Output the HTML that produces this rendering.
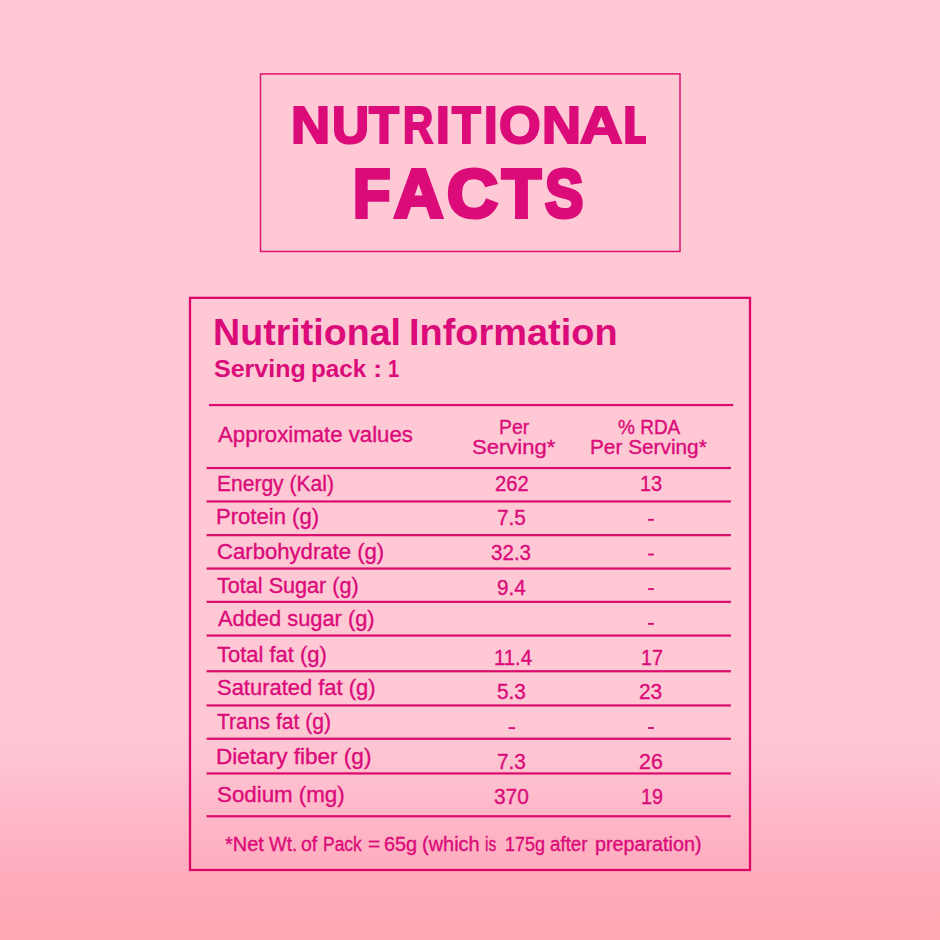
<!DOCTYPE html>
<html lang="en">
<head>
<meta charset="utf-8">
<title>Nutritional Facts</title>
<style>
html,body{margin:0;padding:0;}
body{width:940px;height:940px;overflow:hidden;position:relative;font-family:"Liberation Sans",sans-serif;color:#db0b79;
background:linear-gradient(to bottom,#fec8d5 0px,#fec8d5 726px,#fec4d1 760px,#febbcb 800px,#feb2c3 845px,#feabba 885px,#ffa7b4 940px);}
.t{position:absolute;white-space:nowrap;transform-origin:0 0;margin:0;font-weight:400;}
.b{font-weight:700;}
.ttl{position:absolute;left:0;top:0;margin:0;width:0;height:0;}
.ln{position:absolute;left:0;top:0;}

</style>
</head>
<body>
<svg class="ln" width="940" height="940" viewBox="0 0 940 940">
<rect x="260.5" y="73.9" width="419.5" height="177.55" fill="none" stroke="#e0146e" stroke-width="1.5"/>
<rect x="190" y="297.85" width="560" height="572.15" fill="none" stroke="#dd0767" stroke-width="2.3"/>
<g fill="#dc0a6c">
<rect x="209.0" y="403.95" width="524.2" height="2.2"/>
<rect x="206.6" y="466.95" width="524.3" height="2.2"/>
<rect x="206.6" y="500.35" width="524.3" height="2.2"/>
<rect x="206.6" y="534.05" width="524.3" height="2.2"/>
<rect x="206.6" y="567.45" width="524.3" height="2.2"/>
<rect x="206.6" y="600.75" width="524.3" height="2.2"/>
<rect x="206.6" y="634.45" width="524.3" height="2.2"/>
<rect x="206.6" y="670.15" width="524.3" height="2.2"/>
<rect x="206.6" y="704.35" width="524.3" height="2.2"/>
<rect x="206.6" y="737.65" width="524.3" height="2.2"/>
<rect x="206.6" y="772.35" width="524.3" height="2.2"/>
<rect x="206.6" y="815.15" width="524.3" height="2.2"/>
</g>
<g fill="#db0b79">
<rect x="648.1" y="518.90" width="5.8" height="1.9"/>
<rect x="648.1" y="553.55" width="5.8" height="1.9"/>
<rect x="648.1" y="588.15" width="5.8" height="1.9"/>
<rect x="648.1" y="622.95" width="5.8" height="1.9"/>
<rect x="508.6" y="727.15" width="6.5" height="1.9"/>
<rect x="648.1" y="727.05" width="5.8" height="1.9"/>
</g>
</svg>
<h1 class="ttl">
<span class="t b" style="left:291.01px;top:99px;font-size:52.2px;line-height:52.2px;-webkit-text-stroke:2.2px #db0b79;transform:scaleX(1.0374);">N</span>
<span class="t b" style="left:331.88px;top:99px;font-size:52.2px;line-height:52.2px;-webkit-text-stroke:2.2px #db0b79;transform:scaleX(0.9841);">U</span>
<span class="t b" style="left:369.47px;top:99px;font-size:52.2px;line-height:52.2px;-webkit-text-stroke:2.2px #db0b79;transform:scaleX(0.9392);">T</span>
<span class="t b" style="left:403.28px;top:99px;font-size:52.2px;line-height:52.2px;-webkit-text-stroke:2.2px #db0b79;transform:scaleX(0.7998);">R</span>
<span class="t b" style="left:436.33px;top:99px;font-size:52.2px;line-height:52.2px;-webkit-text-stroke:2.2px #db0b79;transform:scaleX(0.9467);">I</span>
<span class="t b" style="left:452.45px;top:99px;font-size:52.2px;line-height:52.2px;-webkit-text-stroke:2.2px #db0b79;transform:scaleX(0.9027);">T</span>
<span class="t b" style="left:484.06px;top:99px;font-size:52.2px;line-height:52.2px;-webkit-text-stroke:2.2px #db0b79;transform:scaleX(0.9364);">I</span>
<span class="t b" style="left:498.99px;top:99px;font-size:52.2px;line-height:52.2px;-webkit-text-stroke:2.2px #db0b79;transform:scaleX(1.0265);">O</span>
<span class="t b" style="left:542.32px;top:99px;font-size:52.2px;line-height:52.2px;-webkit-text-stroke:2.2px #db0b79;transform:scaleX(1.0344);">N</span>
<span class="t b" style="left:580.02px;top:99px;font-size:52.2px;line-height:52.2px;-webkit-text-stroke:2.2px #db0b79;transform:scaleX(1.1249);">A</span>
<span class="t b" style="left:623.32px;top:99px;font-size:52.2px;line-height:52.2px;-webkit-text-stroke:2.2px #db0b79;clip-path:polygon(-20px -20px,24.19px -20px,24.19px 120px,-20px 120px);transform:scaleX(0.9500);">L</span>
</h1>
<h1 class="ttl">
<span class="t b" style="left:353.28px;top:159px;font-size:69px;line-height:69px;-webkit-text-stroke:4px #db0b79;transform:scaleX(0.8873);">F</span>
<span class="t b" style="left:393.86px;top:159px;font-size:69px;line-height:69px;-webkit-text-stroke:4px #db0b79;transform:scaleX(0.9875);">A</span>
<span class="t b" style="left:446.53px;top:159px;font-size:69px;line-height:69px;-webkit-text-stroke:4px #db0b79;transform:scaleX(1.0203);">C</span>
<span class="t b" style="left:501.73px;top:159px;font-size:69px;line-height:69px;-webkit-text-stroke:4px #db0b79;transform:scaleX(0.9234);">T</span>
<span class="t b" style="left:545.27px;top:159px;font-size:69px;line-height:69px;-webkit-text-stroke:4px #db0b79;transform:scaleX(0.8330);">S</span>
</h1>
<h2 class="ttl">
<span class="t b" style="left:213.17px;top:314px;font-size:37px;line-height:37px;transform:scaleX(1.0167);">Nutritional</span>
<span class="t b" style="left:408.85px;top:314px;font-size:37px;line-height:37px;transform:scaleX(1.0251);">Information</span>
</h2>
<h2 class="ttl">
<span class="t b" style="left:214.30px;top:357px;font-size:24.2px;line-height:24.2px;transform:scaleX(1.0341);">Serving</span>
<span class="t b" style="left:311.43px;top:357px;font-size:24.2px;line-height:24.2px;transform:scaleX(1.0012);">pack</span>
<span class="t b" style="left:372.68px;top:357px;font-size:24.2px;line-height:24.2px;transform:scaleX(1.1499);">:</span>
<span class="t b" style="left:387.69px;top:357px;font-size:24.2px;line-height:24.2px;transform:scaleX(0.8308);">1</span>
</h2>
<div class="t" style="left:217.61px;top:425px;font-size:21.5px;line-height:21.5px;-webkit-text-stroke:0.35px #db0b79;transform:scaleX(1.0318);">Approximate values</div>
<div class="t" style="left:498.68px;top:417px;font-size:20.5px;line-height:20.5px;-webkit-text-stroke:0.35px #db0b79;transform:scaleX(0.9477);">Per</div>
<div class="t" style="left:472.03px;top:437px;font-size:20.5px;line-height:20.5px;-webkit-text-stroke:0.35px #db0b79;transform:scaleX(1.0763);">Serving*</div>
<div class="t" style="left:617.60px;top:417px;font-size:20.5px;line-height:20.5px;-webkit-text-stroke:0.35px #db0b79;transform:scaleX(0.9266);">% RDA</div>
<div class="t" style="left:589.88px;top:437px;font-size:20.5px;line-height:20.5px;-webkit-text-stroke:0.35px #db0b79;transform:scaleX(1.0144);">Per Serving*</div>
<div class="t" style="left:216.64px;top:474px;font-size:21.5px;line-height:21.5px;-webkit-text-stroke:0.35px #db0b79;transform:scaleX(0.9782);">Energy (Kal)</div>
<div class="t" style="left:216.36px;top:507px;font-size:21.5px;line-height:21.5px;-webkit-text-stroke:0.35px #db0b79;transform:scaleX(1.0271);">Protein (g)</div>
<div class="t" style="left:216.68px;top:542px;font-size:21.5px;line-height:21.5px;-webkit-text-stroke:0.35px #db0b79;transform:scaleX(1.0290);">Carbohydrate (g)</div>
<div class="t" style="left:217.38px;top:576px;font-size:21.5px;line-height:21.5px;-webkit-text-stroke:0.35px #db0b79;transform:scaleX(1.0051);">Total Sugar (g)</div>
<div class="t" style="left:217.61px;top:609px;font-size:21.5px;line-height:21.5px;-webkit-text-stroke:0.35px #db0b79;transform:scaleX(1.0158);">Added sugar (g)</div>
<div class="t" style="left:217.38px;top:645px;font-size:21.5px;line-height:21.5px;-webkit-text-stroke:0.35px #db0b79;transform:scaleX(1.0220);">Total fat (g)</div>
<div class="t" style="left:216.76px;top:678px;font-size:21.5px;line-height:21.5px;-webkit-text-stroke:0.35px #db0b79;transform:scaleX(1.0207);">Saturated fat (g)</div>
<div class="t" style="left:217.39px;top:712px;font-size:21.5px;line-height:21.5px;-webkit-text-stroke:0.35px #db0b79;transform:scaleX(0.9806);">Trans fat (g)</div>
<div class="t" style="left:216.03px;top:747px;font-size:21.5px;line-height:21.5px;-webkit-text-stroke:0.35px #db0b79;transform:scaleX(1.0490);">Dietary fiber (g)</div>
<div class="t" style="left:216.74px;top:785px;font-size:21.5px;line-height:21.5px;-webkit-text-stroke:0.35px #db0b79;transform:scaleX(1.0376);">Sodium (mg)</div>
<div class="t" style="left:494.95px;top:474px;font-size:21.5px;line-height:21.5px;-webkit-text-stroke:0.35px #db0b79;transform:scaleX(0.9398);">262</div>
<div class="t" style="left:639.84px;top:474px;font-size:21.5px;line-height:21.5px;-webkit-text-stroke:0.35px #db0b79;transform:scaleX(0.9271);">13</div>
<div class="t" style="left:497.18px;top:508px;font-size:21.5px;line-height:21.5px;-webkit-text-stroke:0.35px #db0b79;transform:scaleX(0.9676);">7.5</div>
<div class="t" style="left:491.40px;top:543px;font-size:21.5px;line-height:21.5px;-webkit-text-stroke:0.35px #db0b79;transform:scaleX(0.9576);">32.3</div>
<div class="t" style="left:497.23px;top:578px;font-size:21.5px;line-height:21.5px;-webkit-text-stroke:0.35px #db0b79;transform:scaleX(0.9611);">9.4</div>
<div class="t" style="left:493.62px;top:648px;font-size:21.5px;line-height:21.5px;-webkit-text-stroke:0.35px #db0b79;transform:scaleX(0.9455);">11.4</div>
<div class="t" style="left:640.66px;top:648px;font-size:21.5px;line-height:21.5px;-webkit-text-stroke:0.35px #db0b79;transform:scaleX(0.9170);">17</div>
<div class="t" style="left:497.18px;top:682px;font-size:21.5px;line-height:21.5px;-webkit-text-stroke:0.35px #db0b79;transform:scaleX(0.9683);">5.3</div>
<div class="t" style="left:638.82px;top:682px;font-size:21.5px;line-height:21.5px;-webkit-text-stroke:0.35px #db0b79;transform:scaleX(0.9710);">23</div>
<div class="t" style="left:497.18px;top:752px;font-size:21.5px;line-height:21.5px;-webkit-text-stroke:0.35px #db0b79;transform:scaleX(0.9683);">7.3</div>
<div class="t" style="left:638.80px;top:752px;font-size:21.5px;line-height:21.5px;-webkit-text-stroke:0.35px #db0b79;transform:scaleX(0.9933);">26</div>
<div class="t" style="left:494.19px;top:787px;font-size:21.5px;line-height:21.5px;-webkit-text-stroke:0.35px #db0b79;transform:scaleX(0.9699);">370</div>
<div class="t" style="left:640.66px;top:787px;font-size:21.5px;line-height:21.5px;-webkit-text-stroke:0.35px #db0b79;transform:scaleX(0.9161);">19</div>
<p class="ttl">
<span class="t" style="left:224.87px;top:835px;font-size:19.3px;line-height:19.3px;-webkit-text-stroke:0.35px #db0b79;transform:scaleX(1.0348);">*Net</span>
<span class="t" style="left:269.15px;top:835px;font-size:19.3px;line-height:19.3px;-webkit-text-stroke:0.35px #db0b79;transform:scaleX(0.9733);">Wt.</span>
<span class="t" style="left:301.12px;top:835px;font-size:19.3px;line-height:19.3px;-webkit-text-stroke:0.35px #db0b79;transform:scaleX(1.0078);">of</span>
<span class="t" style="left:323.13px;top:835px;font-size:19.3px;line-height:19.3px;-webkit-text-stroke:0.35px #db0b79;transform:scaleX(0.9047);">Pack</span>
<span class="t" style="left:367.76px;top:835px;font-size:19.3px;line-height:19.3px;-webkit-text-stroke:0.35px #db0b79;transform:scaleX(1.0821);">=</span>
<span class="t" style="left:383.59px;top:835px;font-size:19.3px;line-height:19.3px;-webkit-text-stroke:0.35px #db0b79;transform:scaleX(1.0305);">65g</span>
<span class="t" style="left:421.96px;top:835px;font-size:19.3px;line-height:19.3px;-webkit-text-stroke:0.35px #db0b79;transform:scaleX(1.0345);">(which</span>
<span class="t" style="left:484.98px;top:835px;font-size:19.3px;line-height:19.3px;-webkit-text-stroke:0.35px #db0b79;transform:scaleX(0.8144);">is</span>
<span class="t" style="left:504.68px;top:835px;font-size:19.3px;line-height:19.3px;-webkit-text-stroke:0.35px #db0b79;transform:scaleX(0.9316);">175g</span>
<span class="t" style="left:549.74px;top:835px;font-size:19.3px;line-height:19.3px;-webkit-text-stroke:0.35px #db0b79;transform:scaleX(0.9721);">after</span>
<span class="t" style="left:594.87px;top:835px;font-size:19.3px;line-height:19.3px;-webkit-text-stroke:0.35px #db0b79;transform:scaleX(1.0240);">preparation)</span>
</p>
</body>
</html>
